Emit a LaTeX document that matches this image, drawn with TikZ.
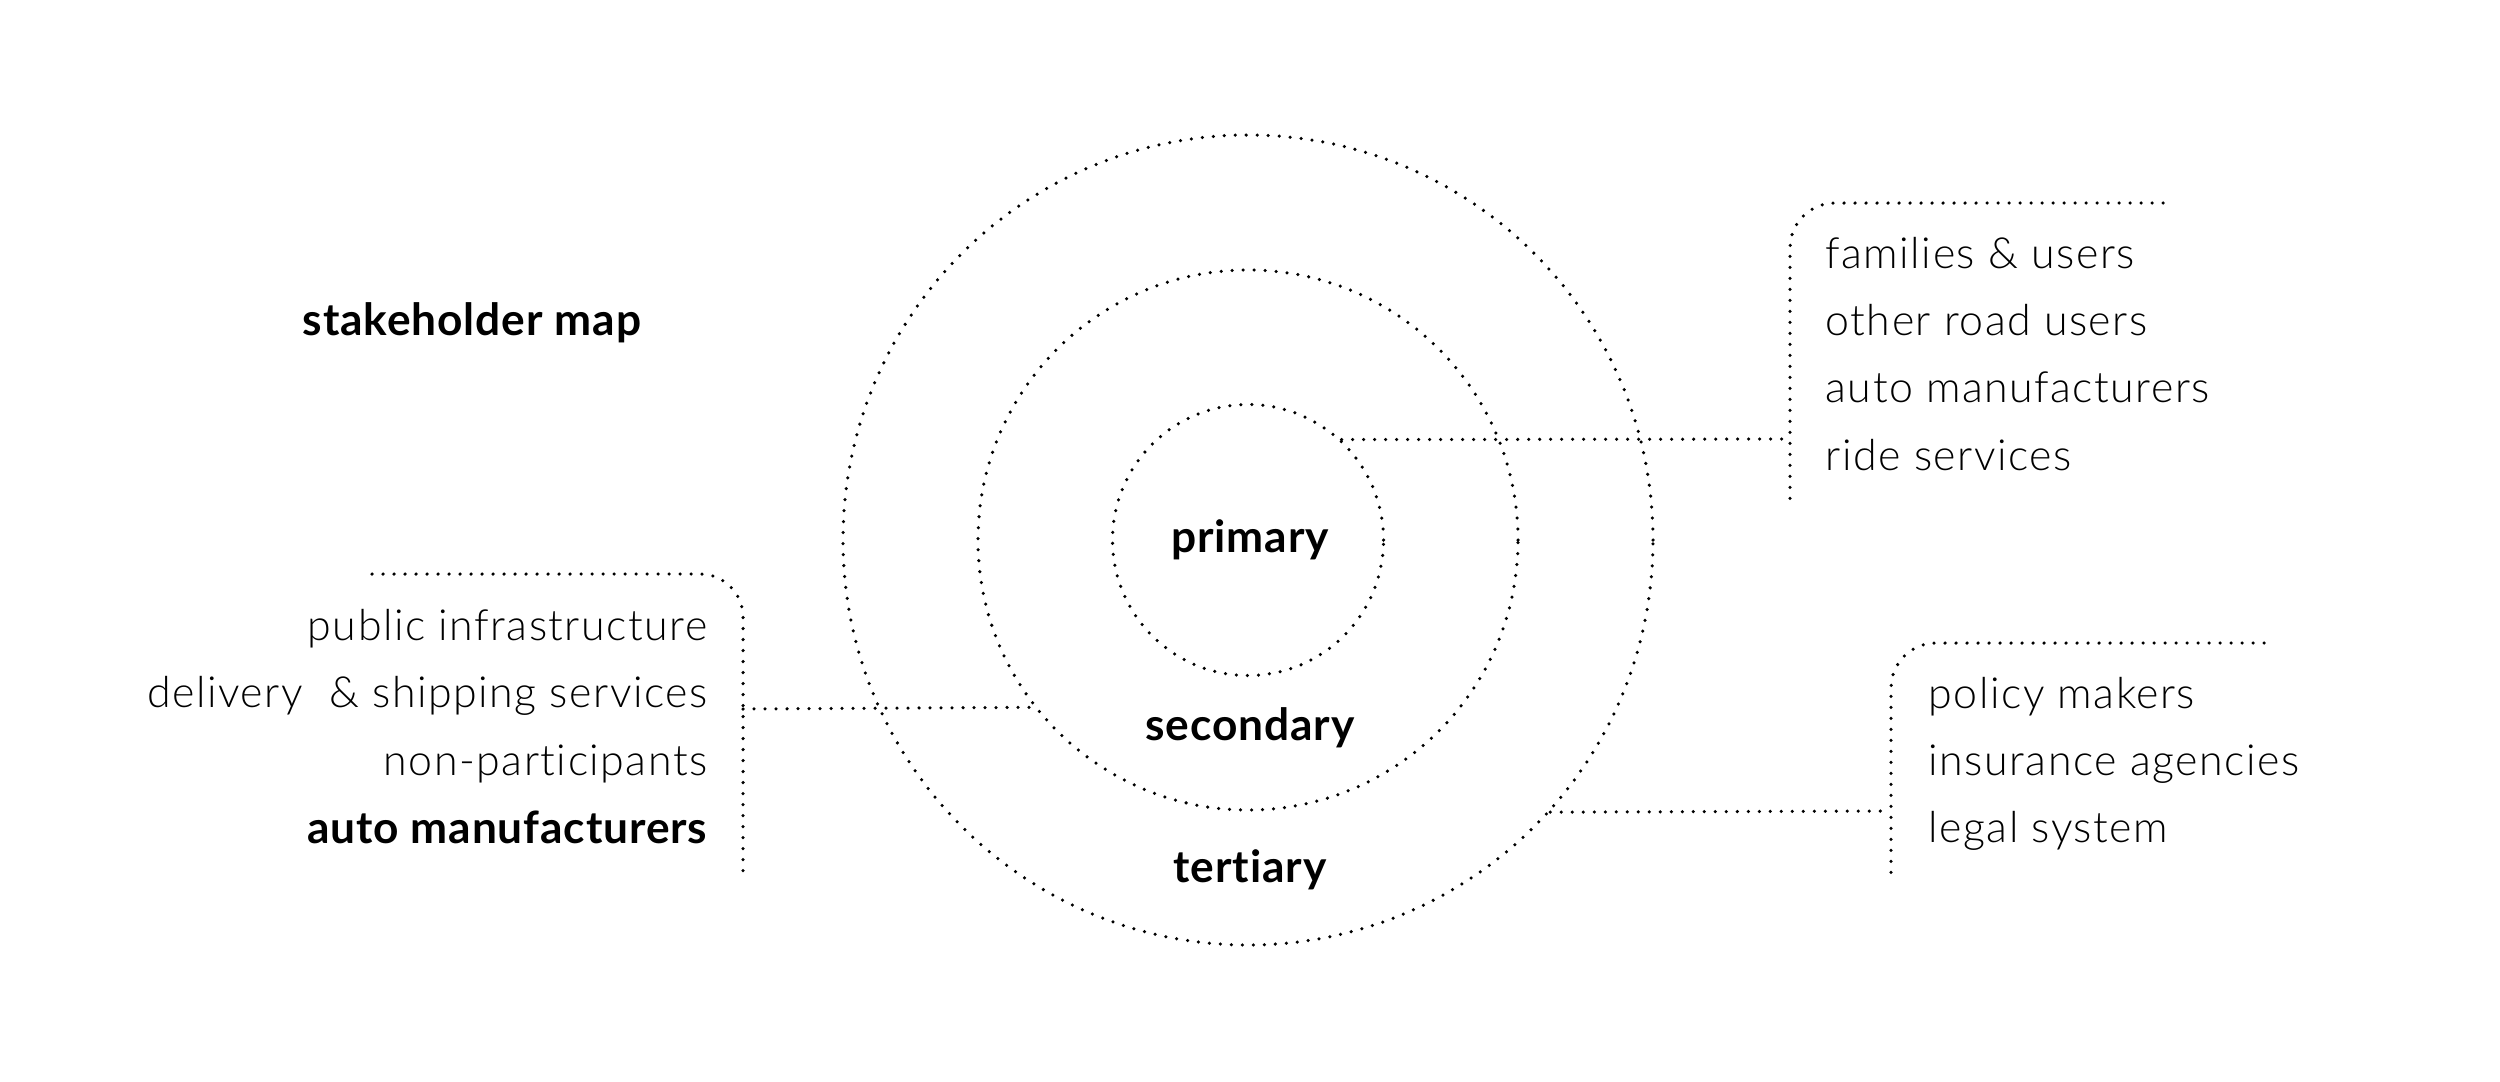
\documentclass[tikz,border=0pt]{standalone}
\usepackage{fontspec}
\setmainfont{Lato}[Ligatures=NoCommon]
\newfontfamily\lightfam{Lato Light}[Ligatures=NoCommon,LetterSpace=3.5]
\newfontfamily\boldfam{Lato}[Ligatures=NoCommon,LetterSpace=2]
\begin{document}
\begin{tikzpicture}[x=0.1mm,y=-0.1mm,
  dots/.style={line width=1pt,line cap=round,dash pattern=on 0pt off 3.13pt},
  ring/.style={circle,inner sep=0pt,dots,draw},
  lbl/.style={inner sep=0pt,font=\lightfam\fontsize{12.2}{14}\selectfont},
  ttl/.style={inner sep=0pt,font=\boldfam\bfseries\fontsize{12.6}{14}\selectfont}]
\useasboundingbox (0,0) rectangle (2500,1081);
% rings
\node[ring,minimum size=81mm] (outer) at (1248,540) {};
\node[ring,minimum size=54mm] (middle) at (1248,540) {};
\node[ring,minimum size=27.1mm] (inner) at (1248,540) {};
% ring labels
\node[ttl,anchor=base] (prim) at (1250,552) {primary};
\node[ttl,anchor=base] (sec) at (1250,740) {secondary};
\node[ttl,anchor=base] (ter) at (1250,882) {tertiary};
\node[ttl,anchor=base west] (title) at (302,335) {stakeholder map};
% top right bracket
\coordinate (trA) at (2163,203);
\coordinate (trB) at (1790,203);
\coordinate (trC) at (1790,507);
\coordinate (trJ) at (1790,439);
\draw[dots,rounded corners=4.5mm] (trA) -- (trB) -- (trC);
\draw[dots] (inner.47.7) -- (trJ);
\node[lbl,anchor=base west] (t1) at (1825,268) {families \& users};
\node[lbl,anchor=base west] (t2) at (1825,335) {other road users};
\node[lbl,anchor=base west] (t3) at (1825,402) {auto manufacturers};
\node[lbl,anchor=base west] (t4) at (1825,470) {ride services};
% left bracket
\coordinate (lA) at (372,574);
\coordinate (lB) at (743,574);
\coordinate (lC) at (743,878);
\coordinate (lJ) at (743,709);
\draw[dots,rounded corners=4.3mm] (lA) -- (lB) -- (lC);
\draw[dots] (lJ) -- (middle.218.96);
\node[lbl,anchor=base east] (l1) at (708,640) {public infrastructure};
\node[lbl,anchor=base east] (l2) at (708,707) {delivery\ \ \& shipping services};
\node[lbl,anchor=base east] (l3) at (708,775) {non-participants};
\node[ttl,anchor=base east] (l4) at (708,843) {auto manufacturers};
% bottom right bracket
\coordinate (bA) at (2264,643);
\coordinate (bB) at (1891,643);
\coordinate (bC) at (1891,878);
\coordinate (bJ) at (1891,811);
\draw[dots,rounded corners=4.5mm] (bA) -- (bB) -- (bC);
\draw[dots] (outer.-42) -- (bJ);
\node[lbl,anchor=base west] (b1) at (1928,708) {policy makers};
\node[lbl,anchor=base west] (b2) at (1928,775) {insurance agencies};
\node[lbl,anchor=base west] (b3) at (1928,842) {legal system};
\end{tikzpicture}
\end{document}
